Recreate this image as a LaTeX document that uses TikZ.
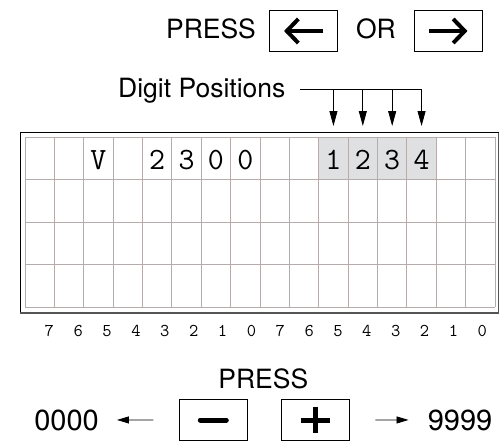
\documentclass[tikz,border=0pt]{standalone}
\usepackage{fontspec}
\newfontfamily\hv{TeX Gyre Heros}
\usetikzlibrary{arrows.meta}
\definecolor{gridc}{RGB}{182,172,172}
\definecolor{cellshade}{RGB}{223,224,226}
\definecolor{frameshadow}{RGB}{85,85,85}
\tikzset{
 lbl/.style={inner sep=0pt, font=\hv\fontsize{26.5}{26.5}\selectfont},
 num/.style={inner sep=0pt, font=\hv\fontsize{29}{29}\selectfont},
 keybox/.style={draw, line width=0.8pt, minimum width=68pt, minimum height=41.5pt, inner sep=0pt},
 fat/.style={line width=4pt, line join=miter},
 glyphbar/.style={line width=5pt},
 lcdch/.style={inner sep=0pt, font=\ttfamily\fontsize{31}{31}\selectfont, anchor=base},
 bitlbl/.style={inner sep=0pt, font=\ttfamily\fontsize{18}{18}\selectfont, anchor=base},
 gridline/.style={draw=gridc, line width=0.9pt},
 pointer/.style={line width=0.8pt, -{Triangle[length=15pt,width=8pt]}},
 rangearrow/.style={line width=0.8pt, -{Triangle[length=12pt,width=7pt]}},
}
\begin{document}
\begin{tikzpicture}[x=1pt,y=-1pt]
\useasboundingbox (0,0) rectangle (502,441);
% --- top: PRESS <- OR ->
\node[lbl, anchor=base] (press1) at (211,38.5) {PRESS};
\node[keybox] (lkey) at (303.3,31) {};
\node[lbl, anchor=base] (orword) at (376,38.5) {OR};
\node[keybox] (rkey) at (448.7,31) {};
\draw[fat] (lkey.center) ++(20,0) -- ++(-36.5,0);
\draw[fat] (lkey.center) ++(-5,-12) -- ++(-11.5,12) -- ++(11.5,12);
\draw[fat] (rkey.center) ++(-19.5,0) -- ++(36,0);
\draw[fat] (rkey.center) ++(4.5,-12) -- ++(11.5,12) -- ++(-11.5,12);
% --- display grid
\fill[cellshade] (318.75,137) rectangle (436.25,179.5);
\foreach \i in {0,...,16} \draw[gridline] ({25+29.375*\i},137) -- ({25+29.375*\i},307);
\foreach \j in {0,...,4} \draw[gridline] (25,{137+42.5*\j}) -- (495,{137+42.5*\j});
\draw[line width=0.8pt] (20,132.5) rectangle (498.5,312.5);
\draw[line width=2pt, frameshadow] (20,312.5) -- (498.5,312.5);
\draw[line width=1.2pt, frameshadow] (498.5,312.5) -- (498.5,132.5);
% characters
\node[lcdch] (cV) at ({25+29.375*2.5},169) {V};
\foreach \ch [count=\n from 4] in {2,3,0,0}
  \node[lcdch] (c\n) at ({25+29.375*(\n+0.5)},169) {\ch};
\foreach \ch [count=\n from 10] in {1,2,3,4}
  \node[lcdch] (c\n) at ({25+29.375*(\n+0.5)},169) {\ch};
% bit labels
\foreach \k [count=\n from 0] in {7,6,5,4,3,2,1,0,7,6,5,4,3,2,1,0}
  \node[bitlbl] (b\n) at ({49.3+28.87*\n},336.5) {\k};
% --- Digit Positions pointer
\node[lbl, anchor=base west] (dp) at (118,97.5) {Digit Positions};
\coordinate (bus) at (300,89.3);
\coordinate (tipline) at (0,126);
\draw[line width=0.8pt] (bus) -- (c13 |- bus);
\foreach \n in {10,...,13}
  \draw[pointer] (c\n |- bus) -- (c\n |- tipline);
% --- bottom: PRESS - +
\node[lbl, anchor=base] (press2) at (263.3,388) {PRESS};
\node[keybox] (minus) at (213.3,420) {};
\node[keybox] (plus) at (315.3,420) {};
\draw[glyphbar, line cap=round] (minus.center) ++(-13,0) -- ++(26,0);
\draw[glyphbar] (plus.center) ++(-14.5,0) -- ++(29,0);
\draw[glyphbar] (plus.center) ++(0,-13.3) -- ++(0,26.6);
\node[num, anchor=base] (zero) at (66.5,430) {0000};
\node[num, anchor=base] (nine) at (460,430) {9999};
\draw[rangearrow, shorten <=25.6pt, shorten >=18pt] (minus.west) -- (zero.east);
\draw[rangearrow, shorten <=25.6pt, shorten >=19pt] (plus.east) -- (nine.west);
\end{tikzpicture}
\end{document}
